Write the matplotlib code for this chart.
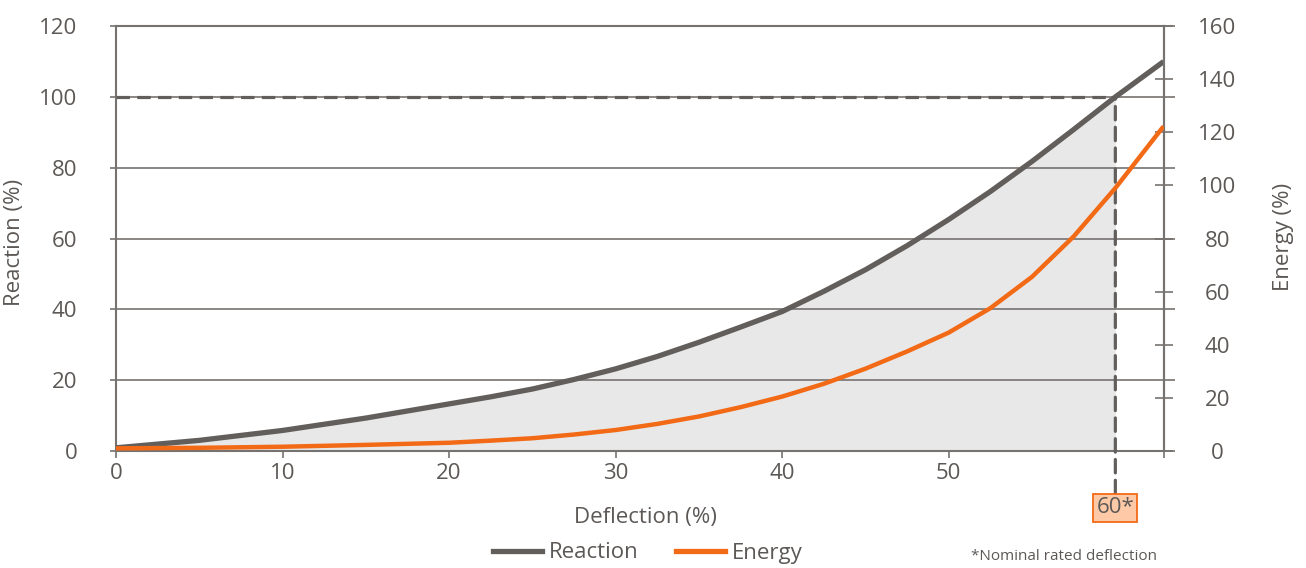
import matplotlib.pyplot as plt
from matplotlib.lines import Line2D

plt.rcParams['font.family'] = ['Open Sans', 'DejaVu Sans']

# values
deflection = [0, 5, 10, 15, 20, 22.5, 25, 27.5, 30, 32.5, 35, 37.5, 40, 42.5, 45, 47.5,
              50, 52.5, 55, 57.5, 60, 62.9]
reaction = [0.9, 3.0, 5.8, 9.3, 13.3, 15.3, 17.5, 20.2, 23.2, 26.7, 30.7, 35.0, 39.4, 45.1,
            51.2, 58.0, 65.4, 73.3, 81.8, 90.8, 100, 110]
energy = [1.0, 1.2, 1.6, 2.3, 3.1, 3.9, 4.8, 6.2, 7.9, 10.2, 13.0, 16.5, 20.5, 25.3, 31.0,
          37.5, 44.6, 53.8, 65.6, 80.8, 99, 122.3]
x_ticks = [0, 10, 20, 30, 40, 50]
reaction_ticks = [0, 20, 40, 60, 80, 100, 120]
energy_ticks = [0, 20, 40, 60, 80, 100, 120, 140, 160]
nominal_defl = 60
nominal_reaction = 100
x_max = 62.9

grey = '#625e5c'
axis_col = '#767270'
text_col = '#5c5856'
orange = '#f26a16'
fs = 16

fig = plt.figure(figsize=(13.06, 5.68), dpi=100)
ax1 = fig.add_axes([0.0888, 0.206, 0.8022, 0.748])
ax2 = ax1.twinx()

# shaded area under reaction up to nominal deflection
xs = [d for d in deflection if d <= nominal_defl]
ys = reaction[:len(xs)]
ax1.fill_between(xs, 0, ys, color='#e8e8e8', lw=0, zorder=1)

ax1.plot(deflection, reaction, color=grey, lw=3.8, solid_capstyle='butt',
         solid_joinstyle='round', zorder=4)
ax2.plot(deflection, energy, color=orange, lw=3.2, solid_capstyle='butt',
         solid_joinstyle='round', zorder=4)

# nominal lines
ax1.plot([0, nominal_defl], [nominal_reaction, nominal_reaction], color=grey, lw=2.3,
         dashes=(4.2, 2.3), zorder=5)
ax1.annotate('60*', xy=(nominal_defl, nominal_reaction), xycoords='data',
             xytext=(nominal_defl, -0.134), textcoords=('data', 'axes fraction'),
             ha='center', va='center', fontsize=fs, color=text_col,
             bbox=dict(boxstyle='square,pad=0.14', fc='#fdc9a6', ec=orange, lw=1.3),
             arrowprops=dict(arrowstyle='-', color=grey, lw=2.3, linestyle=(0, (4.2, 2.3)),
                             shrinkA=0, shrinkB=0),
             annotation_clip=False, zorder=6)

ax1.set_xlim(0, x_max)
ax1.set_ylim(0, 120)
ax2.set_ylim(0, 160)
ax1.set_xticks(x_ticks)
ax1.set_xticks([x_max], minor=True)
ax1.set_yticks(reaction_ticks)
ax2.set_yticks(energy_ticks)

ax1.grid(axis='y', color=axis_col, lw=1.2, zorder=2)
ax1.set_axisbelow(False)
for ax in (ax1, ax2):
    for s in ax.spines.values():
        s.set_color(axis_col)
        s.set_linewidth(1.5)
ax2.spines['left'].set_visible(False)
ax2.spines['bottom'].set_visible(False)
ax2.spines['top'].set_visible(False)

ax1.tick_params(axis='x', which='both', direction='out', length=5, width=1.2, color=axis_col,
                labelsize=fs, labelcolor=text_col, pad=4)
ax1.tick_params(axis='y', direction='out', length=4.3, width=1.2, color=axis_col,
                labelsize=fs, labelcolor=text_col, pad=23.5, right=True, labelright=False)
for t in ax1.yaxis.get_major_ticks():
    t.tick2line.set_markersize(8)
ax2.tick_params(axis='y', direction='inout', length=13.5, width=1.2, color=axis_col,
                labelsize=fs, labelcolor=text_col, pad=32)
for lbl in ax2.get_yticklabels():
    lbl.set_ha('center')

fig.text(15 / 1306, 1 - 242 / 568, 'Reaction (%)', rotation=90, ha='center', va='center',
         fontsize=fs, color=text_col)
fig.text(1283 / 1306, 1 - 237 / 568, 'Energy (%)', rotation=90, ha='center', va='center',
         fontsize=fs, color=text_col)
fig.text(645 / 1306, 1 - 517 / 568, 'Deflection (%)', ha='center', va='center',
         fontsize=fs, color=text_col)
fig.text(1157 / 1306, 1 - 556 / 568, '*Nominal rated deflection', ha='right', va='center',
         fontsize=11, color=text_col)

handles = [Line2D([], [], color=grey, lw=3.8), Line2D([], [], color=orange, lw=3.8)]
fig.legend(handles, ['Reaction', 'Energy'], loc='center', bbox_to_anchor=(0.496, 1 - 553 / 568),
           ncol=2, frameon=False, fontsize=fs, labelcolor=text_col, handlelength=2.2,
           handletextpad=0.3, columnspacing=1.7, borderpad=0)

fig.savefig('out.png', dpi=100)
